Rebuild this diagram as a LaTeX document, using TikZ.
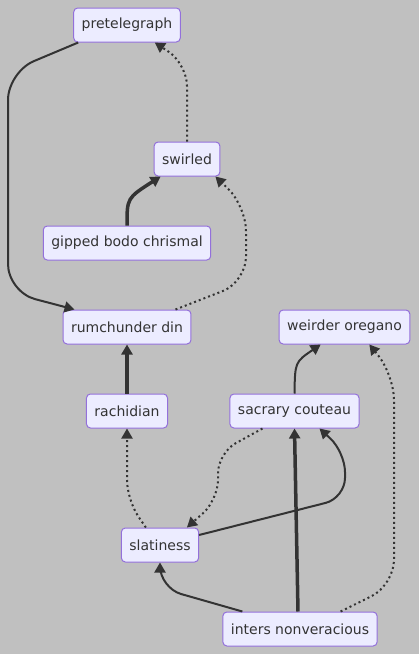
\documentclass[tikz,border=0pt]{standalone}
\usepackage{fontspec}
\setmainfont{DejaVu Sans}
\usetikzlibrary{arrows.meta}
\definecolor{bgc}{HTML}{C0C0C0}
\definecolor{nodefill}{HTML}{ECECFF}
\definecolor{nodeline}{HTML}{9370DB}
\definecolor{ink}{HTML}{333333}

\begin{document}
\begin{tikzpicture}[
  box/.style={draw=nodeline,fill=nodefill,rounded corners=4pt,line width=1pt,
    minimum height=34pt,inner xsep=8pt,text=ink,font=\fontsize{14}{16}\selectfont},
  arr/.style={-{Triangle[length=10pt,width=11pt]},draw=ink,line width=2pt},
  thickarr/.style={arr,line width=3.5pt},
  dotarr/.style={arr,dash pattern=on 2pt off 3pt},
  x=1pt,y=-1pt]
\useasboundingbox[fill=bgc] (0,0) rectangle (419,654);
\node[box] (pretel)  at (127,25)    {pretelegraph};
\node[box] (swirled) at (187,159)   {swirled};
\node[box] (gipped)  at (127,243)   {gipped bodo chrismal};
\node[box] (rumch)   at (127,327)   {rumchunder din};
\node[box] (weird)   at (344.5,327) {weirder oregano};
\node[box] (rachid)  at (127,411)   {rachidian};
\node[box] (sacrary) at (294.5,411) {sacrary couteau};
\node[box] (slat)    at (160,545)   {slatiness};
\node[box] (inters)  at (300,629)   {inters nonveracious};
\draw[arr,rounded corners=28pt] ([xshift=5pt]pretel.south west) -- (8,72) -- (8,292) -- ([xshift=12pt]rumch.north west);
\draw[dotarr,rounded corners=22pt] (swirled.north) -- (187,64) -- ([xshift=-26pt]pretel.south east);
\draw[thickarr] (gipped.north) .. controls (127,198) .. ([xshift=7pt]swirled.south west);
\draw[dotarr,rounded corners=25pt] ([xshift=-16pt]rumch.north east) -- (246,282) -- (246,206) -- ([xshift=-5pt]swirled.south east);
\draw[thickarr] (rachid) -- (rumch);
\draw[arr] (sacrary.north) .. controls (295,362) .. ([xshift=42pt]weird.south west);
\draw[dotarr,rounded corners=25pt] ([xshift=-37pt]inters.north east) -- (394,585) -- (394,375) -- ([xshift=-41pt]weird.south east);
\draw[dotarr,rounded corners=20pt] ([xshift=25pt]slat.north west) -- (127,500) -- (rachid.south);
\draw[dotarr,rounded corners=20pt] ([xshift=33pt]sacrary.south west) -- (218,453) -- (218,500) -- ([xshift=66pt]slat.north west);
\draw[arr,rounded corners=20pt] ([yshift=10pt]slat.east) -- (345,498) -- (345,452) -- ([xshift=25pt]sacrary.south);
\draw[thickarr] ([xshift=-2pt]inters.north) -- (sacrary.south);
\draw[arr,rounded corners=22pt] ([xshift=20pt]inters.north west) -- (160,588) -- (slat.south);
\end{tikzpicture}
\end{document}
